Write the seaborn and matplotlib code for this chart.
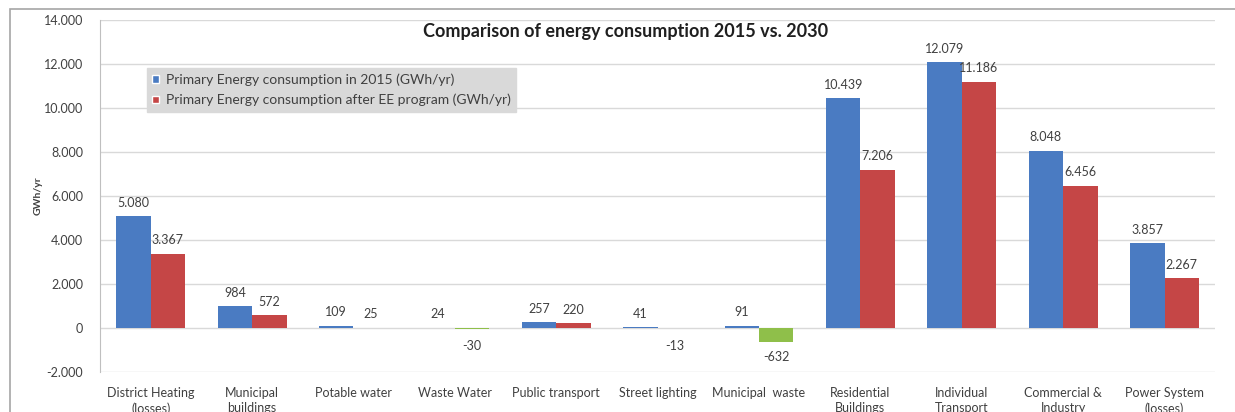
import matplotlib
matplotlib.use("Agg")
import matplotlib.pyplot as plt
import seaborn as sns
import pandas as pd
from matplotlib.patches import Rectangle
from matplotlib.ticker import FixedLocator, FuncFormatter

categories = [
    "District Heating\n(losses)", "Municipal\nbuildings", "Potable water",
    "Waste Water", "Public transport", "Street lighting", "Municipal  waste",
    "Residential\nBuildings", "Individual\nTransport", "Commercial &\nIndustry",
    "Power System\n(losses)",
]
consumption_2015 = [5080, 984, 109, 24, 257, 41, 91, 10439, 12079, 8048, 3857]
consumption_after_ee = [3367, 572, 25, -30, 220, -13, -632, 7206, 11186, 6456, 2267]
series_names = [
    "Primary Energy consumption in 2015 (GWh/yr)",
    "Primary Energy consumption after EE program (GWh/yr)",
]
y_ticks = list(range(-2000, 14001, 2000))

BLUE = "#4A7BC2"
RED = "#C54646"
GREEN = "#8FBF4A"
TXT = "#404040"

sns.set_theme(style="white")
plt.rcParams["font.family"] = ["Lato", "DejaVu Sans"]

df = pd.DataFrame({
    "category": categories * 2,
    "value": consumption_2015 + consumption_after_ee,
    "series": [series_names[0]] * len(categories) + [series_names[1]] * len(categories),
})

fig = plt.figure(figsize=(12.35, 4.12), dpi=100)
ax = fig.add_axes([0.081, 0.097, 0.903, 0.854])

sns.barplot(data=df, x="category", y="value", hue="series",
            palette=[BLUE, RED], width=0.68, saturation=1, ax=ax,
            errorbar=None, legend=True)

fmt = lambda v: f"{v:,.0f}".replace(",", ".")

# values below zero in the second series are filled green
for cont, vals in zip(ax.containers, [consumption_2015, consumption_after_ee]):
    for patch, v in zip(cont.patches, vals):
        patch.set_linewidth(0)
        if v < 0:
            patch.set_facecolor(GREEN)
        cx = patch.get_x() + patch.get_width() / 2
        if v >= 0:
            ax.annotate(fmt(v), (cx, v), xytext=(0, 5.5), textcoords="offset points",
                        ha="center", va="bottom", fontsize=9, color=TXT)
        else:
            ax.annotate(fmt(v), (cx, min(v, -150)), xytext=(0, -6.5), textcoords="offset points",
                        ha="center", va="top", fontsize=9, color=TXT)

ax.set_ylim(-2000, 14000)
ax.yaxis.set_major_locator(FixedLocator(y_ticks))
ax.yaxis.set_major_formatter(FuncFormatter(lambda v, p: fmt(v)))
ax.grid(axis="y", color="#D9D9D9", linewidth=1)
ax.set_axisbelow(True)
ax.tick_params(axis="y", labelsize=9, colors=TXT, length=3, width=0.8, color="#BFBFBF", pad=9)
ax.tick_params(axis="x", labelsize=9, colors=TXT, length=0, pad=11)
for lbl in ax.get_xticklabels():
    lbl.set_linespacing(1.3)
for s in ["top", "right", "bottom"]:
    ax.spines[s].set_visible(False)
ax.spines["left"].set_color("#BFBFBF")
ax.spines["left"].set_linewidth(0.8)
ax.set_xlabel("")
ax.set_ylabel("GWh/yr", fontsize=7.5, fontweight="bold", color=TXT, labelpad=1)
ax.set_xlim(-0.5, len(categories) - 0.5)

fig.text(626 / 1235, 1 - 32 / 412, "Comparison of energy consumption 2015 vs. 2030",
         fontsize=13, fontweight="bold", color="#1F1F1F", ha="center", va="center")

leg = ax.legend(loc="upper left", bbox_to_anchor=(0.042, 0.864), frameon=True,
                fontsize=10, handlelength=0.45, handleheight=0.45, handletextpad=0.5,
                labelspacing=0.55, borderpad=0.4, borderaxespad=0, fancybox=False, title=None)
leg.get_frame().set_facecolor("#D9D9D9")
leg.get_frame().set_edgecolor("#D9D9D9")
leg.get_frame().set_alpha(1)
for t in leg.get_texts():
    t.set_color(TXT)

# chart area border
fig.patches.append(Rectangle((10 / 1235, -0.05), 1.2, 1 - 9 / 412 + 0.05,
                             transform=fig.transFigure, fill=False,
                             edgecolor="#A6A6A6", linewidth=1.2))

fig.savefig("out.png", dpi=100)
